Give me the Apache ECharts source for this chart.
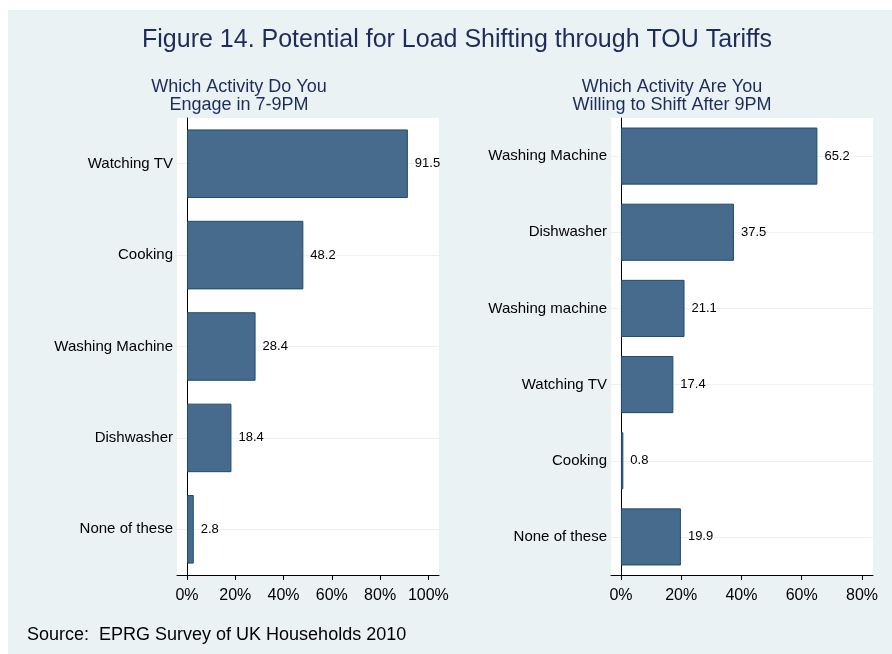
<!DOCTYPE html>
<html><head><meta charset="utf-8">
<script src="https://cdn.jsdelivr.net/npm/echarts@6/dist/echarts.min.js"></script>
<style>html,body{margin:0;padding:0;background:#fff}#c{width:892px;height:654px}</style>
</head><body><div id="c"></div>
<script>
const title = 'Figure 14. Potential for Load Shifting through TOU Tariffs';
const leftTitle = 'Which Activity Do You\nEngage in 7-9PM';
const rightTitle = 'Which Activity Are You\nWilling to Shift After 9PM';
const source = 'Source:  EPRG Survey of UK Households 2010';

const leftCategories = ['Watching TV', 'Cooking', 'Washing Machine', 'Dishwasher', 'None of these'];
const leftValues = [91.5, 48.2, 28.4, 18.4, 2.8];
const leftTicks = [0, 20, 40, 60, 80, 100];

const rightCategories = ['Washing Machine', 'Dishwasher', 'Washing machine', 'Watching TV', 'Cooking', 'None of these'];
const rightValues = [65.2, 37.5, 21.1, 17.4, 0.8, 19.9];
const rightTicks = [0, 20, 40, 60, 80];

const FONT = '"Liberation Sans", Arial, sans-serif';
const BG = '#EAF2F3';
const BAR = '#476B8D';
const BAR_BORDER = '#1E4B72';
const NAVY = '#1E2C5C';

function xAxis(gridIndex, min, max, ticks) {
  return {
    type: 'value', gridIndex, min, max,
    axisLine: { show: true, lineStyle: { color: '#000', width: 1 } },
    axisTick: { show: true, length: 5, customValues: ticks, lineStyle: { color: '#000' } },
    axisLabel: { customValues: ticks, formatter: v => v + '%', color: '#000', fontSize: 16, fontFamily: FONT, margin: 13 },
    splitLine: { show: false }
  };
}
function yAxis(gridIndex, cats) {
  return {
    type: 'category', gridIndex, data: cats, inverse: true,
    axisLine: { show: true, lineStyle: { color: '#000', width: 1 } },
    axisTick: { show: false, alignWithLabel: true },
    axisLabel: { color: '#000', fontSize: 15, fontFamily: FONT, margin: 4 },
    splitLine: { show: true, alignWithLabel: true, lineStyle: { color: BG, width: 1 } }
  };
}
function barSeries(idx, values) {
  return {
    type: 'bar', xAxisIndex: idx, yAxisIndex: idx, data: values,
    barCategoryGap: '25%',
    itemStyle: { color: BAR, borderColor: BAR_BORDER, borderWidth: 1 },
    label: { show: true, position: 'right', distance: 7, color: '#000', fontSize: 13, fontFamily: FONT, formatter: p => p.value.toFixed(1) },
    silent: true, animation: false
  };
}

const chart = echarts.init(document.getElementById('c'), null, { renderer: 'canvas' });
chart.setOption({
  animation: false,
  backgroundColor: '#fff',
  graphic: [
    { type: 'rect', z: -10, shape: { x: 8, y: 10, width: 892, height: 654 }, style: { fill: BG } }
  ],
  title: [
    { text: title, left: 457, top: 28, padding: 0, textAlign: 'center', textStyle: { color: NAVY, fontSize: 25, fontWeight: 'normal', fontFamily: FONT } },
    { text: leftTitle, left: 239, top: 78, padding: 0, textAlign: 'center', textStyle: { color: NAVY, fontSize: 18, fontWeight: 'normal', fontFamily: FONT, lineHeight: 18, align: 'center' } },
    { text: rightTitle, left: 672, top: 78, padding: 0, textAlign: 'center', textStyle: { color: NAVY, fontSize: 18, fontWeight: 'normal', fontFamily: FONT, lineHeight: 18, align: 'center' } },
    { text: source, left: 27, top: 626, padding: 0, textStyle: { color: '#000', fontSize: 18, fontWeight: 'normal', fontFamily: FONT } }
  ],
  grid: [
    { left: 177, right: 453, top: 118, bottom: 79, show: true, backgroundColor: '#fff', borderWidth: 0 },
    { left: 611, right: 19, top: 118, bottom: 79, show: true, backgroundColor: '#fff', borderWidth: 0 }
  ],
  xAxis: [xAxis(0, -4.15, 104.4, leftTicks), xAxis(1, -3.3, 83.65, rightTicks)],
  yAxis: [yAxis(0, leftCategories), yAxis(1, rightCategories)],
  series: [barSeries(0, leftValues), barSeries(1, rightValues)]
});
</script></body></html>
